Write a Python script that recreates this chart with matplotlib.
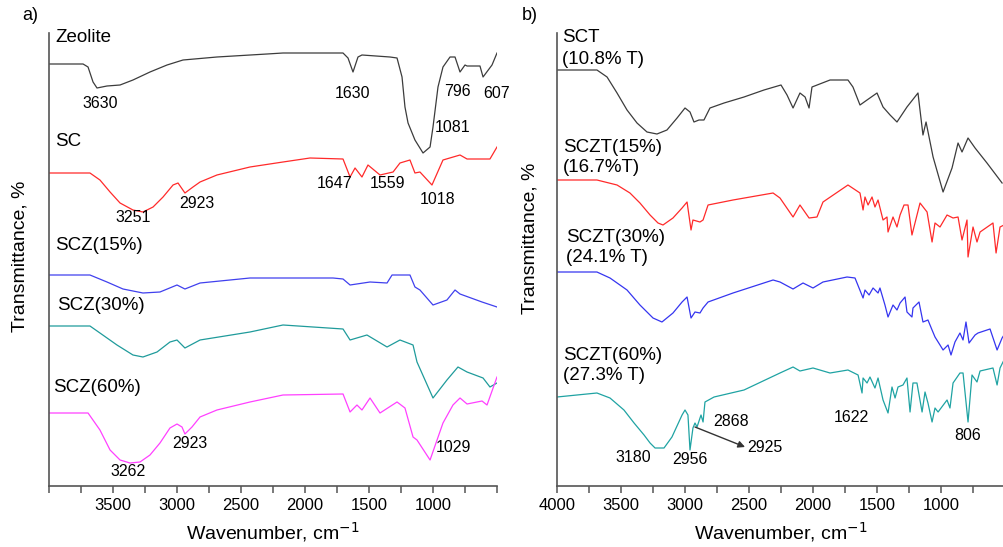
import matplotlib
matplotlib.use("Agg")
import matplotlib.pyplot as plt
from matplotlib.ticker import MultipleLocator

plt.rcParams['font.family'] = ['Liberation Sans', 'DejaVu Sans']

# ---------------- panel a data (wavenumber, transmittance offset units) ----------------
zeolite_w = [4000, 3734, 3695, 3656, 3625, 3547, 3445, 3344, 3211, 3078, 2953, 2688, 2297, 2172,
             1703, 1664, 1625, 1586, 1555, 1336, 1281, 1242, 1219, 1195, 1141, 1078, 1023, 1000,
             961, 922, 867, 828, 789, 750, 734, 633, 609, 539, 500]
zeolite_t = [422, 422, 419, 404, 398, 400, 401, 406, 414, 421, 426, 429, 432, 433,
             433, 428, 414, 429, 431, 429, 428, 409, 379, 363, 346, 333, 339, 359,
             399, 419, 429, 429, 414, 421, 420, 420, 409, 421, 433]

sc_w = [4000, 3680, 3602, 3523, 3445, 3344, 3266, 3187, 3109, 3031, 2992, 2938, 2875, 2820,
        2688, 2430, 2172, 1961, 1703, 1648, 1609, 1555, 1508, 1414, 1312, 1258, 1180, 1141,
        1102, 1008, 922, 789, 734, 555, 500]
sc_t = [313, 313, 306, 294, 283, 276, 274, 279, 289, 301, 303, 293, 299, 304,
        311, 319, 324, 328, 327, 309, 318, 309, 321, 311, 314, 323, 326, 313,
        314, 301, 326, 331, 327, 327, 339]

scz15_w = [4000, 3680, 3547, 3422, 3266, 3133, 3000, 2938, 2820, 2430, 1781, 1703, 1648, 1492,
           1359, 1320, 1180, 1141, 1102, 1000, 891, 828, 789, 617, 500]
scz15_t = [211, 211, 204, 197, 193, 194, 201, 197, 203, 208, 208, 207, 201, 204,
           203, 211, 211, 199, 196, 181, 186, 196, 192, 184, 179]

scz30_w = [4000, 3680, 3602, 3469, 3344, 3266, 3156, 3055, 3000, 2938, 2820, 2430, 2172, 1703,
           1648, 1516, 1359, 1258, 1156, 1125, 1000, 891, 805, 734, 609, 555, 500]
scz30_t = [160, 160, 153, 141, 131, 129, 134, 144, 146, 138, 146, 154, 161, 157,
           146, 151, 139, 146, 141, 124, 88, 106, 119, 114, 108, 99, 103]

scz60_w = [4000, 3695, 3602, 3523, 3445, 3367, 3289, 3211, 3133, 3055, 3000, 2961, 2938, 2883,
           2820, 2688, 2430, 2172, 1703, 1648, 1594, 1555, 1492, 1414, 1281, 1219, 1156, 1125,
           1023, 922, 844, 789, 734, 617, 578, 500]
scz60_t = [73, 73, 56, 36, 26, 23, 24, 31, 43, 58, 62, 59, 52, 59,
           69, 76, 84, 91, 92, 74, 81, 76, 88, 73, 84, 78, 49, 46,
           26, 63, 81, 88, 82, 85, 81, 109]

# ---------------- panel b data ----------------
sct_w = [4000, 3688, 3609, 3531, 3453, 3375, 3297, 3219, 3141, 3062, 3000, 2961, 2930, 2891,
         2852, 2805, 2695, 2539, 2383, 2250, 2203, 2156, 2102, 2062, 2031, 2008, 1867, 1727,
         1688, 1633, 1578, 1500, 1453, 1398, 1344, 1266, 1180, 1141, 1117, 1062, 984, 914,
         867, 836, 789, 734, 641, 523]
sct_t = [416, 416, 409, 393, 376, 363, 354, 352, 356, 368, 378, 374, 364, 366,
         366, 378, 383, 389, 396, 401, 391, 378, 393, 389, 378, 399, 406, 406,
         399, 381, 386, 393, 379, 371, 364, 379, 393, 351, 364, 329, 294, 318,
         343, 334, 348, 338, 323, 303]

sczt15_w = [4000, 3688, 3531, 3430, 3352, 3273, 3211, 3172, 3094, 3023, 2984, 2953, 2938, 2883,
            2859, 2820, 2625, 2312, 2258, 2156, 2102, 2031, 1969, 1922, 1727, 1633, 1609, 1594,
            1570, 1539, 1516, 1492, 1453, 1422, 1414, 1375, 1344, 1320, 1289, 1258, 1227, 1164,
            1109, 1070, 1047, 1008, 953, 906, 867, 836, 797, 789, 750, 719, 695, 594, 570,
            539, 508]
sczt15_t = [306, 306, 301, 293, 283, 271, 263, 261, 268, 278, 284, 256, 266, 264,
            266, 281, 286, 293, 288, 269, 281, 268, 269, 284, 301, 293, 276, 289,
            281, 289, 279, 286, 266, 269, 254, 269, 259, 271, 281, 281, 251, 283,
            274, 244, 263, 259, 271, 268, 269, 246, 266, 229, 259, 244, 254, 263, 233,
            259, 261]

sczt30_w = [4000, 3688, 3586, 3453, 3352, 3250, 3180, 3094, 3023, 2984, 2953, 2922, 2883, 2859,
            2820, 2625, 2312, 2258, 2156, 2078, 2000, 1922, 1734, 1672, 1609, 1594, 1562, 1531,
            1492, 1477, 1438, 1414, 1375, 1344, 1320, 1281, 1266, 1227, 1219, 1172, 1141, 1102,
            1070, 1047, 1008, 984, 945, 922, 891, 852, 828, 805, 781, 734, 711, 617, 562,
            523, 508]
sczt30_t = [214, 214, 208, 196, 181, 168, 164, 173, 184, 189, 168, 174, 173, 178,
            184, 193, 206, 204, 197, 203, 198, 204, 209, 208, 188, 196, 191, 198,
            193, 198, 181, 169, 181, 176, 183, 189, 174, 169, 178, 184, 164, 166,
            156, 149, 141, 136, 141, 131, 144, 153, 146, 164, 143, 151, 153, 157, 136,
            148, 151]

sczt60_w = [4000, 3688, 3586, 3477, 3398, 3320, 3273, 3234, 3164, 3102, 3023, 3000, 2977, 2961,
            2938, 2922, 2906, 2875, 2859, 2844, 2773, 2539, 2258, 2156, 2102, 2000, 1867, 1727,
            1648, 1617, 1609, 1578, 1555, 1516, 1492, 1453, 1414, 1383, 1359, 1336, 1297, 1266,
            1242, 1219, 1188, 1148, 1125, 1102, 1070, 1047, 1023, 953, 930, 906, 852, 828,
            789, 758, 719, 695, 594, 562, 539, 508]
sczt60_t = [89, 93, 88, 76, 63, 51, 43, 38, 38, 49, 71, 76, 71, 36,
            58, 63, 59, 71, 64, 84, 89, 96, 113, 119, 115, 118, 113, 116,
            111, 93, 108, 103, 109, 98, 108, 86, 73, 99, 88, 99, 101, 108,
            74, 103, 103, 74, 94, 83, 64, 78, 74, 86, 78, 103, 113, 113,
            64, 111, 104, 115, 118, 101, 118, 126]

fig = plt.figure(figsize=(10.04, 5.47), dpi=100)
W, H = 1004, 547
bottom = 1 - 486 / H
height = (486 - 33) / H
ax_a = fig.add_axes([49 / W, bottom, 448 / W, height])
ax_b = fig.add_axes([557 / W, bottom, 447 / W, height])

lw = 0.9
ax_a.plot(zeolite_w, zeolite_t, color='#3c3c3c', lw=lw)
ax_a.plot(sc_w, sc_t, color='#ff2a2a', lw=lw)
ax_a.plot(scz15_w, scz15_t, color='#4040ee', lw=lw)
ax_a.plot(scz30_w, scz30_t, color='#1f9b9b', lw=lw)
ax_a.plot(scz60_w, scz60_t, color='#ff40ff', lw=lw)

ax_b.plot(sct_w, sct_t, color='#3c3c3c', lw=lw)
ax_b.plot(sczt15_w, sczt15_t, color='#ff2a2a', lw=lw)
ax_b.plot(sczt30_w, sczt30_t, color='#3535f0', lw=lw)
ax_b.plot(sczt60_w, sczt60_t, color='#1fa3a3', lw=lw)

for ax, xr in ((ax_a, 500), (ax_b, 508)):
    ax.set_xlim(4000, xr)
    ax.set_ylim(0, 453)
    ax.spines['top'].set_visible(False)
    ax.spines['right'].set_visible(False)
    for s in ('left', 'bottom'):
        ax.spines[s].set_color('#555555')
        ax.spines[s].set_linewidth(1.2)
    ax.set_yticks([])
    ax.xaxis.set_major_locator(MultipleLocator(500))
    ax.xaxis.set_minor_locator(MultipleLocator(250))
    ax.tick_params(axis='x', which='both', direction='out', length=5, width=1.1,
                   color='#555555', labelsize=12, pad=4)
    ax.set_facecolor('none')

ax_a.set_xticks([3500, 3000, 2500, 2000, 1500, 1000])
ax_a.set_xticks([4000, 3750, 3250, 2750, 2250, 1750, 1250, 750, 500], minor=True)
ax_b.set_xticks([4000, 3500, 3000, 2500, 2000, 1500, 1000])

ax_a.set_xlabel('Wavenumber, cm$^{-1}$', fontsize=14, labelpad=5)
ax_b.set_xlabel('Wavenumber, cm$^{-1}$', fontsize=14, labelpad=5)
fig.text(20 / W, 1 - 256 / H, 'Transmittance, %', rotation=90, fontsize=14,
         ha='center', va='center')
fig.text(530 / W, 1 - 238 / H, 'Transmittance, %', rotation=90, fontsize=14,
         ha='center', va='center')
fig.text(22 / W, 1 - 16 / H, 'a)', fontsize=13, ha='left', va='center')
fig.text(522 / W, 1 - 16 / H, 'b)', fontsize=13, ha='left', va='center')

# series names
name_kw = dict(fontsize=13.5, ha='left', va='center')
ax_a.text(3953, 448, 'Zeolite', **name_kw)
ax_a.text(3953, 344, 'SC', **name_kw)
ax_a.text(3953, 241, 'SCZ(15%)', **name_kw)
ax_a.text(3938, 181, 'SCZ(30%)', **name_kw)
ax_a.text(3969, 99, 'SCZ(60%)', **name_kw)

ax_b.text(3961, 448, 'SCT', **name_kw)
ax_b.text(3961, 426, '(10.8% T)', **name_kw)
ax_b.text(3953, 339, 'SCZT(15%)', **name_kw)
ax_b.text(3953, 318, '(16.7%T)', **name_kw)
ax_b.text(3930, 249, 'SCZT(30%)', **name_kw)
ax_b.text(3930, 228, '(24.1% T)', **name_kw)
ax_b.text(3953, 131, 'SCZT(60%)', **name_kw)
ax_b.text(3953, 110, '(27.3% T)', **name_kw)

# peak labels
pk = dict(fontsize=11.5, ha='center', va='center', clip_on=False)
for w, t, s in [(3602, 382, '3630'), (1625, 393, '1630'), (812, 395, '796'),
                (500, 393, '607'), (844, 358, '1081'), (3344, 268, '3251'),
                (2844, 282, '2923'), (1766, 302, '1647'), (1359, 302, '1559'),
                (961, 287, '1018'), (2898, 43, '2923'), (3383, 14, '3262'),
                (844, 39, '1029')]:
    ax_a.text(w, t, s, **pk)

for w, t, s in [(3406, 28, '3180'), (2961, 27, '2956'), (2641, 65, '2868'),
                (2375, 38, '2925'), (1703, 68, '1622'), (789, 50, '806')]:
    ax_b.text(w, t, s, **pk)
ax_b.annotate('', xy=(2531, 39), xytext=(2922, 59),
              arrowprops=dict(arrowstyle='-|>', color='#333333', lw=1.0,
                              mutation_scale=10, shrinkA=0, shrinkB=0))

fig.savefig('out.png', dpi=100)
